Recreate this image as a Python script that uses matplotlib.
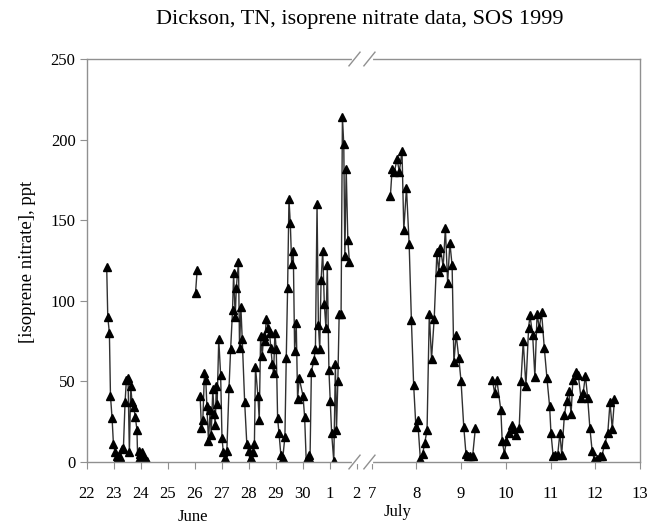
import numpy as np
import matplotlib
matplotlib.use("Agg")
import matplotlib.pyplot as plt

nan = np.nan

# June (days of June, July 1-2 written as 31, 32) -- nan marks a gap in the record
june_day = [22.74, 22.78, 22.84, 22.88, 22.94, 22.99, 23.05, 23.11, 23.17, 23.24,
            23.31, 23.36, 23.42, 23.47, 23.53, 23.58, 23.63, 23.68, 23.74, 23.80,
            23.86, 23.89, 23.93, 23.98, 24.03, 24.08, 24.13, 24.19, 24.24,
            25.0,
            26.03, 26.09,
            26.15,
            26.20, 26.25, 26.30, 26.36, 26.41, 26.45, 26.51, 26.57, 26.61, 26.67,
            26.72, 26.76, 26.80, 26.83, 26.89, 26.96, 27.01, 27.06, 27.12, 27.19,
            27.27, 27.33, 27.40, 27.44, 27.50, 27.54, 27.62, 27.66, 27.71, 27.76,
            27.85, 27.93, 28.00, 28.04, 28.09, 28.14, 28.21, 28.25, 28.34, 28.39,
            28.44, 28.50, 28.55, 28.60, 28.65, 28.72, 28.77, 28.82, 28.87, 28.92,
            28.97, 29.02, 29.07, 29.12, 29.19, 29.26, 29.34, 29.39, 29.44, 29.49,
            29.54, 29.59, 29.65, 29.70, 29.76, 29.81, 29.87, 30.01, 30.07, 30.13,
            30.18, 30.22, 30.27, 30.32, 30.41, 30.47, 30.53, 30.58, 30.63, 30.68,
            30.74, 30.80, 30.86, 30.91, 30.97, 31.02, 31.07, 31.15, 31.21, 31.25,
            31.30, 31.35, 31.42, 31.47, 31.52, 31.56, 31.61, 31.67, 31.73]
june_ppt = [121, 90, 80, 41, 27, 11, 6, 4, 3, 3,
            8, 9, 37, 51, 52, 6, 47, 37, 34, 28,
            20, 0.5, 7, 5, 6, 4, 2.5, 1.5, 0.5,
            nan,
            105, 119,
            nan,
            41, 21, 26, 55, 51, 35, 13, 32, 17, 45,
            30, 23, 47, 36, 76, 54, 15, 6, 2.5, 7,
            46, 70, 94, 117, 90, 108, 124, 71, 96, 76,
            37, 11, 7, 1, 2.5, 6, 11, 59, 41, 26,
            78, 66, 78, 75, 89, 83, 80, 71, 61, 55,
            80, 70, 27, 18, 4.5, 2.5, 15.5, 64.5, 108, 163,
            148, 123, 131, 69, 86, 39, 52, 41, 28, 0.5,
            2, 4.5, 1.5, 56, 63, 70, 160, 85, 70, 113,
            131, 98, 83, 122, 57, 38, 18, 0.5, 61, 20,
            50, 92, 92, 214, 197, 128, 182, 138, 124]

# July (days of July)
july_day = [7.42, 7.46, 7.51, 7.57, 7.62, 7.68, 7.72, 7.78, 7.84, 7.89,
            7.94, 7.99, 8.03, 8.09, 8.14, 8.19, 8.24, 8.29, 8.34, 8.40,
            8.46, 8.50, 8.54, 8.60, 8.65, 8.70, 8.75, 8.80, 8.84, 8.89,
            8.95, 9.00, 9.06, 9.11, 9.16, 9.21, 9.26, 9.32,
            9.5,
            9.70, 9.75, 9.80, 9.89, 9.92, 9.97, 10.01, 10.07, 10.13, 10.17,
            10.22, 10.30, 10.34, 10.39, 10.45, 10.51, 10.54, 10.60, 10.65, 10.70,
            10.75, 10.80, 10.86, 10.92, 10.98, 11.01, 11.06, 11.11, 11.16, 11.21,
            11.25, 11.31, 11.36, 11.41, 11.46, 11.50, 11.57, 11.62, 11.68, 11.73,
            11.78, 11.83, 11.88, 11.93, 11.98, 12.04, 12.10, 12.15, 12.21, 12.28,
            12.33, 12.38, 12.43]
july_ppt = [165, 182, 180, 188, 180, 193, 144, 170, 135, 88,
            48, 22, 26, 2, 5, 12, 20, 92, 64, 89,
            130, 118, 133, 121, 145, 111, 136, 122, 62, 79,
            64.5, 50, 22, 5, 3.5, 4, 4, 21,
            nan,
            51, 43, 51, 32, 13, 5, 13, 18, 23, 20.5,
            17, 21, 50, 75, 47, 83, 91, 79, 53, 92,
            83, 93, 71, 52, 34.5, 18, 3.5, 4.5, 4.5, 18,
            4.5, 29, 38, 44, 30, 51, 56, 54, 40, 43,
            53.5, 40, 21, 7, 1, 2, 3.5, 4, 11, 18,
            37, 20.5, 39]

tick_days = [0, 1, 2, 3, 4, 5, 6, 7, 8, 9, 10, 15, 16, 17, 18, 19, 20, 21]
tick_labels = ['22', '23', '24', '25', '26', '27', '28', '29', '30', '1', '2',
               '7', '8', '9', '10', '11', '12', '13']

# days counted from June 22; July stretch is drawn wider after the break
t_in = [-10, 0, 10, 15, 21, 40]
t_out = [-10, 0, 10, 10.55, 20.49, 20.49 + 19 * 1.657]


def fwd(t):
    return np.interp(t, t_in, t_out)


def inv(x):
    return np.interp(x, t_out, t_in)


t_june = np.array(june_day) - 22
t_july = np.array(july_day) + 8

plt.rcParams['font.family'] = ['Liberation Serif', 'DejaVu Serif']

fig = plt.figure(figsize=(6.5, 5.24), dpi=100)
ax = fig.add_axes([0.1334, 0.1183, 0.8512, 0.7691])
ax.set_xscale('function', functions=(fwd, inv))

style = dict(color='#303030', lw=1.0, marker='^', ms=5.5, mfc='black', mec='black')
ax.plot(t_june, june_ppt, **style)
ax.plot(t_july, july_ppt, **style)

ax.set_xlim(0, 21)
ax.set_ylim(0, 250)
ax.set_xticks(tick_days)
ax.set_xticklabels(tick_labels)
ax.set_yticks([0, 50, 100, 150, 200, 250])
ax.minorticks_off()
ax.tick_params(axis='x', direction='out', length=5, width=0.8, color='#909090',
               pad=12, labelsize=12)
ax.tick_params(axis='y', direction='out', length=5, width=0.8, color='#909090',
               pad=3, labelsize=12)
for s in ax.spines.values():
    s.set_color('#909090')
    s.set_linewidth(1.0)

# axis break marks
for yb in (0, 1):
    ax.plot([0.484, 0.513], [yb, yb], transform=ax.transAxes, color='white',
            lw=3, clip_on=False, zorder=5)
    for xb in (0.474, 0.501):
        ax.plot([xb, xb + 0.02], [yb - 0.017, yb + 0.017], transform=ax.transAxes,
                color='#909090', lw=1.0, clip_on=False, zorder=6)

fig.text(0.554, 0.962, 'Dickson, TN, isoprene nitrate data, SOS 1999',
         ha='center', va='center', fontsize=16)
fig.text(0.042, 0.50, '[isoprene nitrate], ppt', rotation=90,
         ha='center', va='center', fontsize=13.5)
fig.text(0.297, 0.013, 'June', ha='center', va='center', fontsize=12)
fig.text(0.612, 0.022, 'July', ha='center', va='center', fontsize=12)

fig.savefig('out.png', dpi=100)
